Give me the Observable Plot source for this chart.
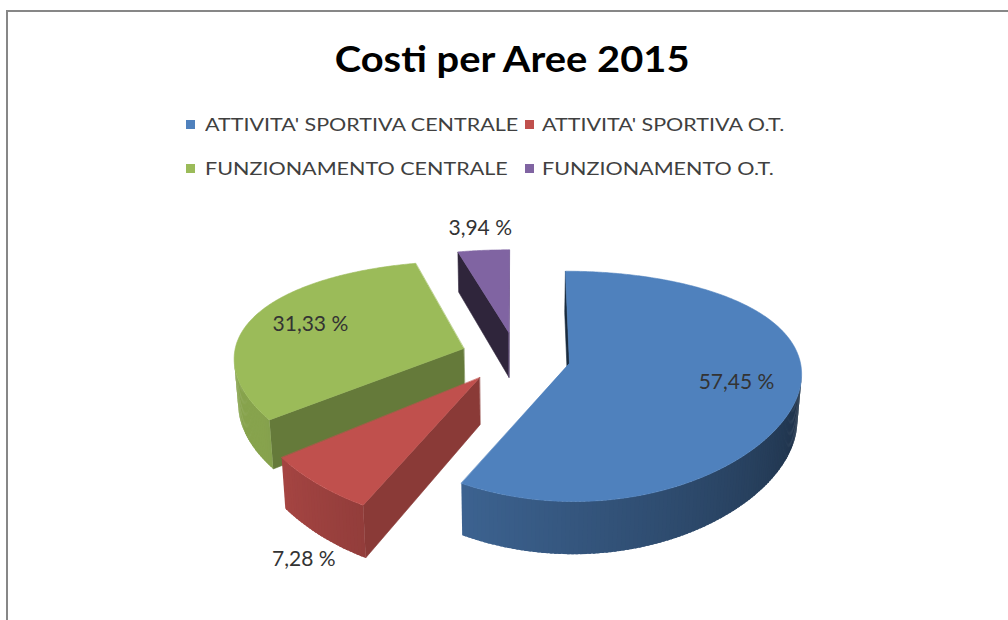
<!DOCTYPE html>
<html>
<head>
<meta charset="utf-8">
<script src="https://cdn.jsdelivr.net/npm/d3@7"></script>
<script src="https://cdn.jsdelivr.net/npm/@observablehq/plot@0.6"></script>
<style>
  html, body { margin: 0; padding: 0; background: #fff; }
  #page { position: relative; width: 1008px; height: 620px; overflow: hidden; background: #fff; font-family: Lato, "Open Sans", sans-serif; }
  #frame { position: absolute; left: 6px; top: 10px; width: 1200px; height: 900px; border: 2px solid #878787; }
  #titlebox { position: absolute; top: 40px; left: 16px; width: 992px; text-align: center; white-space: nowrap; }
  #title { display: inline-block; font-weight: 700; font-size: 36px; line-height: 36px; color: #000; transform-origin: 50% 50%; }
  .swatch { position: absolute; width: 9px; height: 9px; }
  .lab { position: absolute; font-size: 18px; line-height: 18px; color: #404040; white-space: nowrap; transform-origin: 0 50%; }
  #chart { position: absolute; left: 0; top: 190px; }
</style>
</head>
<body>
<div id="page">
  <div id="frame"></div>
  <div id="titlebox"><span id="title"></span></div>
  <div id="legend"></div>
  <div id="chart"></div>
</div>
<script>
// ---- data ----
const chartTitle = "Costi per Aree 2015";
const categories = [
  "ATTIVITA' SPORTIVA CENTRALE",
  "ATTIVITA' SPORTIVA O.T.",
  "FUNZIONAMENTO CENTRALE",
  "FUNZIONAMENTO O.T."
];
const shares = [57.45, 7.28, 31.33, 3.94];
const shareLabels = ["57,45 %", "7,28 %", "31,33 %", "3,94 %"];

// ---- styles ----
const palette = ["#4F81BD", "#C0504D", "#9BBB59", "#8064A2"];

// ---- 3D view parameters (layout) ----
const G = {cx: 515, cy: 356.5, F: 230, K: 108, H: 46, u1: 0.08, u2: 0.2, u3: 0.015, u4: 0.12, explode: 0.24, cam: 12.5};
const rad = Math.PI / 180;

function project(X, Z, lvl) {
  return {
    x: G.cx + G.F * X / (1 + G.u1 * Z + G.u3 * lvl),
    y: G.cy - G.K * Z / (1 + G.u2 * Z) + lvl * G.H / (1 + G.u4 * Z)
  };
}
function shade(hex, b) {
  const c = d3.rgb(hex);
  return d3.rgb(c.r * b, c.g * b, c.b * b).formatHex();
}
function wallB(a) {
  const deg = a / rad;
  return Math.max(0.38, Math.min(0.87, 0.38 + (deg - 100) * 0.0036));
}
function radialB(psi) {
  return Math.max(0.3, Math.min(0.75, 0.72 - 0.00255 * (psi - 117)));
}

const total = d3.sum(shares);
let run = 0;
const slices = shares.map((v, i) => {
  const a0 = run / total * 2 * Math.PI; run += v;
  const a1 = run / total * 2 * Math.PI;
  const am = (a0 + a1) / 2;
  return {i, share: v, a0, a1, am, ox: G.explode * Math.sin(am), oz: G.explode * Math.cos(am)};
});
function pt(s, r, a, lvl) {
  return project(s.ox + r * Math.sin(a), s.oz + r * Math.cos(a), lvl);
}

const polys = [];
let pid = 0;
function addPoly(pts, color, sw) {
  const id = pid++;
  for (const p of pts) polys.push({pid: id, x: p.x, y: p.y, color, sw});
}

const order = d3.sort(slices, s => -s.oz);
for (const s of order) {
  const base = palette[s.i];
  // radial (cut) faces
  for (const [a, sign] of [[s.a0, -1], [s.a1, 1]]) {
    const nx = sign * Math.cos(a), nz = -sign * Math.sin(a);
    const mx = s.ox + 0.5 * Math.sin(a), mz = s.oz + 0.5 * Math.cos(a);
    const dot = nx * (0 - mx) + nz * (-G.cam - mz);
    if (dot > 0) {
      const psi = (Math.atan2(nx, nz) / rad + 360) % 360;
      addPoly([pt(s, 0, a, 0), pt(s, 1, a, 0), pt(s, 1, a, 1), pt(s, 0, a, 1)], shade(base, radialB(psi)), 0.6);
    }
  }
  // outer curved wall (overlapping opaque strips, no seams)
  const n = Math.max(2, Math.ceil((s.a1 - s.a0) / rad));
  for (let k = 0; k < n; k++) {
    const t0 = s.a0 + (s.a1 - s.a0) * k / n;
    const t1 = s.a0 + (s.a1 - s.a0) * (k + 1) / n;
    const t1x = Math.min(s.a1, t1 + 0.6 * rad);
    const tm = (t0 + t1) / 2;
    const nx = Math.sin(tm), nz = Math.cos(tm);
    const px = s.ox + nx, pz = s.oz + nz;
    if (nx * (0 - px) + nz * (-G.cam - pz) > 0) {
      addPoly([pt(s, 1, t0, 0), pt(s, 1, t1x, 0), pt(s, 1, t1x, 1), pt(s, 1, t0, 1)], shade(base, wallB(tm)), 0);
    }
  }
  // top face
  const top = [pt(s, 0, s.a0, 0)];
  for (let k = 0; k <= n * 2; k++) top.push(pt(s, 1, s.a0 + (s.a1 - s.a0) * k / (n * 2), 0));
  addPoly(top, base, 0.6);
}

const labelRows = slices.map(s => {
  let p;
  if (s.share >= 10) {
    p = pt(s, 0.73, s.am, 0);
  } else {
    const lvl = Math.cos(s.am) > 0 ? 0 : 1;
    const q = pt(s, 1, s.am, lvl);
    p = {x: q.x + 26 * Math.sin(s.am), y: q.y - 26 * Math.cos(s.am) + 4};
  }
  return {x: p.x, y: p.y, text: shareLabels[s.i]};
});

const chart = Plot.plot({
  width: 1008,
  height: 430,
  margin: 0,
  x: {domain: [0, 1008], range: [0, 1008], axis: null},
  y: {domain: [190, 620], range: [0, 430], axis: null},
  color: {type: "identity"},
  style: {background: "transparent", overflow: "visible"},
  marks: [
    Plot.line(polys, {x: "x", y: "y", z: "pid", fill: "color", stroke: "color", strokeWidth: "sw", curve: "linear-closed"}),
    Plot.text(labelRows, {x: "x", y: "y", text: "text", fontSize: 21, fontFamily: "Lato, 'Open Sans', sans-serif", fill: "#333333"})
  ]
});
document.getElementById("chart").appendChild(chart);

// ---- title and legend (HTML) ----
const ctx = document.createElement("canvas").getContext("2d");
function textW(font, s) { ctx.font = font; return ctx.measureText(s).width; }

const titleEl = document.getElementById("title");
titleEl.textContent = chartTitle;
const tW = textW("bold 36px Lato", chartTitle);
titleEl.style.transform = `scaleX(${357 / tW})`;

const legScale = 314 / textW("18px Lato", categories[0]);
const legend = document.getElementById("legend");
const swatchX = [186, 525], textX = [205, 542], baseY = [131, 175];
categories.forEach((c, i) => {
  const col = i % 2, row = Math.floor(i / 2);
  const sw = document.createElement("div");
  sw.className = "swatch";
  sw.style.left = swatchX[col] + "px";
  sw.style.top = (baseY[row] - 11) + "px";
  sw.style.background = palette[i];
  legend.appendChild(sw);
  const lb = document.createElement("span");
  lb.className = "lab";
  lb.textContent = c;
  lb.style.left = textX[col] + "px";
  lb.style.top = (baseY[row] - 16) + "px";
  lb.style.transform = `scaleX(${legScale})`;
  legend.appendChild(lb);
});
</script>
</body>
</html>
